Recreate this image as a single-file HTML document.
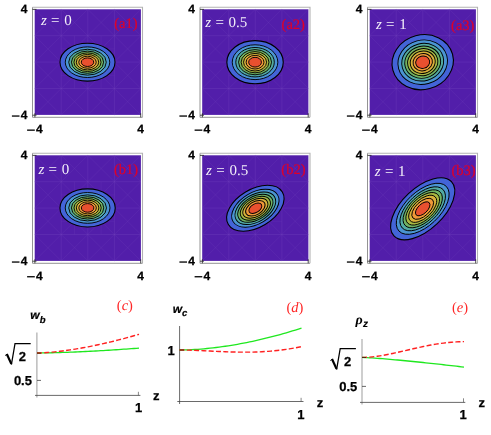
<!DOCTYPE html>
<html><head><meta charset="utf-8"><title>figure</title>
<style>
html,body{margin:0;padding:0;background:#fff;}
body{width:491px;height:435px;overflow:hidden;font-family:"Liberation Sans",sans-serif;}
svg{display:block;position:absolute;left:0;top:0;will-change:transform;text-rendering:geometricPrecision;}
.tk{font-family:"Liberation Sans",sans-serif;font-weight:bold;font-size:12px;fill:#000;stroke:#000;stroke-width:0.25px;}
.t13{font-size:13px;}
.zl{font-family:"Liberation Serif",serif;font-size:15px;fill:#fff;fill-opacity:0.93;word-spacing:0.5px;}
.pl{font-family:"Liberation Serif",serif;font-size:14.5px;fill:#e00028;stroke:#e00028;stroke-width:0.2px;}
.cl{font-family:"Liberation Serif",serif;font-size:14.5px;fill:#ff2626;}
.cl tspan{font-style:italic;}
.ax{font-family:"Liberation Sans",sans-serif;font-weight:bold;font-style:italic;font-size:12px;fill:#000;stroke:#000;stroke-width:0.2px;}
</style></head><body>
<svg width="491" height="435" viewBox="0 0 491 435">
<rect x="0" y="0" width="491" height="435" fill="#fff"/>

<g>
<rect x="32.5" y="7.3" width="110" height="110" fill="#fff"/>
<path d="M32.5,7.3 H142.5 V117.3" fill="none" stroke="#b2b2b2" stroke-width="1.1"/>
<path d="M32.5,7.3 V117.3 H142.5" fill="none" stroke="#939393" stroke-width="1"/>
<rect x="34.7" y="9.3" width="106.2" height="105.6" fill="#521eaa"/>
<g stroke="#7448be" stroke-width="0.6" fill="none">
<path opacity="0.5" d="M34.7,35.7H140.9M61.2,9.3V114.9M34.7,62.1H140.9M87.8,9.3V114.9M34.7,88.5H140.9M114.4,9.3V114.9"/>
<path opacity="0.33" d="M34.7,88.5L61.2,114.9M140.9,88.5L114.4,114.9M34.7,62.1L87.8,114.9M140.9,62.1L87.8,114.9M34.7,35.7L114.4,114.9M140.9,35.7L61.2,114.9M34.7,9.3L140.9,114.9M140.9,9.3L34.7,114.9M61.2,9.3L140.9,88.5M114.4,9.3L34.7,88.5M87.8,9.3L140.9,62.1M87.8,9.3L34.7,62.1M114.4,9.3L140.9,35.7M61.2,9.3L34.7,35.7"/>
<path opacity="0.3" d="M61.2,48.9H114.4M74.5,35.7V88.5M61.2,75.3H114.4M101.1,35.7V88.5"/>
</g>
<g stroke="#222" stroke-width="0.8">
<line x1="34.9" y1="117.3" x2="34.9" y2="113.3"/>
<line x1="140.7" y1="117.3" x2="140.7" y2="113.3"/>
<line x1="32.5" y1="115.2" x2="36.5" y2="115.2"/>
<line x1="32.5" y1="9.4" x2="36.5" y2="9.4"/>
</g>
<g transform="translate(87.5,62.2) rotate(0)" stroke="#000" stroke-width="0.92">
<ellipse cx="0" cy="0" rx="27.50" ry="18.95" fill="#4364d8" stroke-width="1.1"/>
<ellipse cx="0" cy="0" rx="22.22" ry="15.31" fill="#4a94d2"/>
<ellipse cx="0" cy="0" rx="18.78" ry="12.94" fill="#52aaa2"/>
<ellipse cx="0" cy="0" rx="16.09" ry="11.09" fill="#70b262"/>
<ellipse cx="0" cy="0" rx="13.56" ry="9.34" fill="#a8b842"/>
<ellipse cx="0" cy="0" rx="11.22" ry="7.73" fill="#d8b03a"/>
<ellipse cx="0" cy="0" rx="8.72" ry="6.01" fill="#f09838"/>
<ellipse cx="0" cy="0" rx="6.21" ry="4.28" fill="#e9502f"/>
</g>
<text class="zl" x="41.0" y="25.0"><tspan font-style="italic">z</tspan> = <tspan dx="0.5">0</tspan></text>
<text class="pl" x="114.2" y="28.4">(a1)</text>
<text class="tk" x="20.7" y="13.0">4</text>
<text class="tk" x="20.7" y="119.0">4</text>
<rect x="11.899999999999999" y="115.4" width="7.6" height="1.3" fill="#000"/>
<text class="tk" x="36.1" y="133.1">4</text>
<rect x="27.1" y="129.5" width="7.7" height="1.3" fill="#000"/>
<text class="tk" x="140.5" y="133.1" text-anchor="middle">4</text>
</g>
<g>
<rect x="200.0" y="7.3" width="110" height="110" fill="#fff"/>
<path d="M200.0,7.3 H310.0 V117.3" fill="none" stroke="#b2b2b2" stroke-width="1.1"/>
<path d="M200.0,7.3 V117.3 H310.0" fill="none" stroke="#939393" stroke-width="1"/>
<rect x="202.2" y="9.3" width="106.2" height="105.6" fill="#521eaa"/>
<g stroke="#7448be" stroke-width="0.6" fill="none">
<path opacity="0.5" d="M202.2,35.7H308.4M228.8,9.3V114.9M202.2,62.1H308.4M255.3,9.3V114.9M202.2,88.5H308.4M281.9,9.3V114.9"/>
<path opacity="0.33" d="M202.2,88.5L228.8,114.9M308.4,88.5L281.8,114.9M202.2,62.1L255.3,114.9M308.4,62.1L255.3,114.9M202.2,35.7L281.9,114.9M308.4,35.7L228.7,114.9M202.2,9.3L308.4,114.9M308.4,9.3L202.2,114.9M228.8,9.3L308.4,88.5M281.8,9.3L202.2,88.5M255.3,9.3L308.4,62.1M255.3,9.3L202.2,62.1M281.9,9.3L308.4,35.7M228.7,9.3L202.2,35.7"/>
<path opacity="0.3" d="M228.8,48.9H281.9M242.0,35.7V88.5M228.8,75.3H281.9M268.6,35.7V88.5"/>
</g>
<g stroke="#222" stroke-width="0.8">
<line x1="202.4" y1="117.3" x2="202.4" y2="113.3"/>
<line x1="308.2" y1="117.3" x2="308.2" y2="113.3"/>
<line x1="200.0" y1="115.2" x2="204.0" y2="115.2"/>
<line x1="200.0" y1="9.4" x2="204.0" y2="9.4"/>
</g>
<g transform="translate(255.05,62.2) rotate(0)" stroke="#000" stroke-width="0.92">
<ellipse cx="0" cy="0" rx="28.20" ry="21.55" fill="#4364d8" stroke-width="1.1"/>
<ellipse cx="0" cy="0" rx="22.79" ry="17.41" fill="#4a94d2"/>
<ellipse cx="0" cy="0" rx="19.26" ry="14.72" fill="#52aaa2"/>
<ellipse cx="0" cy="0" rx="16.50" ry="12.61" fill="#70b262"/>
<ellipse cx="0" cy="0" rx="13.90" ry="10.62" fill="#a8b842"/>
<ellipse cx="0" cy="0" rx="11.51" ry="8.79" fill="#d8b03a"/>
<ellipse cx="0" cy="0" rx="8.94" ry="6.83" fill="#f09838"/>
<ellipse cx="0" cy="0" rx="6.37" ry="4.87" fill="#e9502f"/>
</g>
<text class="zl" x="205.3" y="27.4"><tspan font-style="italic">z</tspan> = <tspan dx="0.5">0.5</tspan></text>
<text class="pl" x="281.6" y="29.2">(a2)</text>
<text class="tk" x="188.2" y="13.0">4</text>
<text class="tk" x="188.2" y="119.0">4</text>
<rect x="179.4" y="115.4" width="7.6" height="1.3" fill="#000"/>
<text class="tk" x="203.6" y="133.1">4</text>
<rect x="194.6" y="129.5" width="7.7" height="1.3" fill="#000"/>
<text class="tk" x="308.0" y="133.1" text-anchor="middle">4</text>
</g>
<g>
<rect x="367.5" y="7.3" width="110" height="110" fill="#fff"/>
<path d="M367.5,7.3 H477.5 V117.3" fill="none" stroke="#b2b2b2" stroke-width="1.1"/>
<path d="M367.5,7.3 V117.3 H477.5" fill="none" stroke="#939393" stroke-width="1"/>
<rect x="369.7" y="9.3" width="106.2" height="105.6" fill="#521eaa"/>
<g stroke="#7448be" stroke-width="0.6" fill="none">
<path opacity="0.5" d="M369.7,35.7H475.9M396.2,9.3V114.9M369.7,62.1H475.9M422.8,9.3V114.9M369.7,88.5H475.9M449.4,9.3V114.9"/>
<path opacity="0.33" d="M369.7,88.5L396.2,114.9M475.9,88.5L449.3,114.9M369.7,62.1L422.8,114.9M475.9,62.1L422.8,114.9M369.7,35.7L449.4,114.9M475.9,35.7L396.2,114.9M369.7,9.3L475.9,114.9M475.9,9.3L369.7,114.9M396.2,9.3L475.9,88.5M449.3,9.3L369.7,88.5M422.8,9.3L475.9,62.1M422.8,9.3L369.7,62.1M449.4,9.3L475.9,35.7M396.2,9.3L369.7,35.7"/>
<path opacity="0.3" d="M396.2,48.9H449.4M409.5,35.7V88.5M396.2,75.3H449.4M436.1,35.7V88.5"/>
</g>
<g stroke="#222" stroke-width="0.8">
<line x1="369.9" y1="117.3" x2="369.9" y2="113.3"/>
<line x1="475.7" y1="117.3" x2="475.7" y2="113.3"/>
<line x1="367.5" y1="115.2" x2="371.5" y2="115.2"/>
<line x1="367.5" y1="9.4" x2="371.5" y2="9.4"/>
</g>
<g transform="translate(422.7,62.2) rotate(-15)" stroke="#000" stroke-width="0.92">
<ellipse cx="0" cy="0" rx="30.88" ry="27.30" fill="#4364d8" stroke-width="1.1"/>
<ellipse cx="0" cy="0" rx="24.95" ry="22.06" fill="#4a94d2"/>
<ellipse cx="0" cy="0" rx="21.09" ry="18.65" fill="#52aaa2"/>
<ellipse cx="0" cy="0" rx="18.06" ry="15.97" fill="#70b262"/>
<ellipse cx="0" cy="0" rx="15.22" ry="13.46" fill="#a8b842"/>
<ellipse cx="0" cy="0" rx="12.60" ry="11.14" fill="#d8b03a"/>
<ellipse cx="0" cy="0" rx="9.79" ry="8.65" fill="#f09838"/>
<ellipse cx="0" cy="0" rx="6.98" ry="6.17" fill="#e9502f"/>
</g>
<text class="zl" x="376.0" y="28.6"><tspan font-style="italic">z</tspan> = <tspan dx="0.5">1</tspan></text>
<text class="pl" x="451.1" y="29.5">(a3)</text>
<text class="tk" x="355.7" y="13.0">4</text>
<text class="tk" x="355.7" y="119.0">4</text>
<rect x="346.9" y="115.4" width="7.6" height="1.3" fill="#000"/>
<text class="tk" x="371.1" y="133.1">4</text>
<rect x="362.1" y="129.5" width="7.7" height="1.3" fill="#000"/>
<text class="tk" x="475.5" y="133.1" text-anchor="middle">4</text>
</g>
<g>
<rect x="32.5" y="153.3" width="110" height="110" fill="#fff"/>
<path d="M32.5,153.3 H142.5 V263.3" fill="none" stroke="#b2b2b2" stroke-width="1.1"/>
<path d="M32.5,153.3 V263.3 H142.5" fill="none" stroke="#939393" stroke-width="1"/>
<rect x="34.7" y="155.3" width="106.2" height="105.6" fill="#521eaa"/>
<g stroke="#7448be" stroke-width="0.6" fill="none">
<path opacity="0.5" d="M34.7,181.7H140.9M61.2,155.3V260.9M34.7,208.1H140.9M87.8,155.3V260.9M34.7,234.5H140.9M114.4,155.3V260.9"/>
<path opacity="0.33" d="M34.7,234.5L61.2,260.9M140.9,234.5L114.4,260.9M34.7,208.1L87.8,260.9M140.9,208.1L87.8,260.9M34.7,181.7L114.4,260.9M140.9,181.7L61.2,260.9M34.7,155.3L140.9,260.9M140.9,155.3L34.7,260.9M61.2,155.3L140.9,234.5M114.4,155.3L34.7,234.5M87.8,155.3L140.9,208.1M87.8,155.3L34.7,208.1M114.4,155.3L140.9,181.7M61.2,155.3L34.7,181.7"/>
<path opacity="0.3" d="M61.2,194.9H114.4M74.5,181.7V234.5M61.2,221.3H114.4M101.1,181.7V234.5"/>
</g>
<g stroke="#222" stroke-width="0.8">
<line x1="34.9" y1="263.3" x2="34.9" y2="259.3"/>
<line x1="140.7" y1="263.3" x2="140.7" y2="259.3"/>
<line x1="32.5" y1="261.2" x2="36.5" y2="261.2"/>
<line x1="32.5" y1="155.4" x2="36.5" y2="155.4"/>
</g>
<g transform="translate(87.6,207.9) rotate(0)" stroke="#000" stroke-width="0.92">
<ellipse cx="0" cy="0" rx="27.65" ry="19.05" fill="#4364d8" stroke-width="1.1"/>
<ellipse cx="0" cy="0" rx="22.34" ry="15.39" fill="#4a94d2"/>
<ellipse cx="0" cy="0" rx="18.88" ry="13.01" fill="#52aaa2"/>
<ellipse cx="0" cy="0" rx="16.18" ry="11.14" fill="#70b262"/>
<ellipse cx="0" cy="0" rx="13.63" ry="9.39" fill="#a8b842"/>
<ellipse cx="0" cy="0" rx="11.28" ry="7.77" fill="#d8b03a"/>
<ellipse cx="0" cy="0" rx="8.77" ry="6.04" fill="#f09838"/>
<ellipse cx="0" cy="0" rx="6.25" ry="4.31" fill="#e9502f"/>
</g>
<text class="zl" x="38.4" y="174.0"><tspan font-style="italic">z</tspan> = <tspan dx="0.5">0</tspan></text>
<text class="pl" x="114.0" y="174.3">(b1)</text>
<text class="tk" x="20.7" y="159.0">4</text>
<text class="tk" x="20.7" y="265.0">4</text>
<rect x="11.899999999999999" y="261.4" width="7.6" height="1.3" fill="#000"/>
<text class="tk" x="36.1" y="279.7">4</text>
<rect x="27.1" y="276.09999999999997" width="7.7" height="1.3" fill="#000"/>
<text class="tk" x="140.5" y="279.7" text-anchor="middle">4</text>
</g>
<g>
<rect x="200.0" y="153.3" width="110" height="110" fill="#fff"/>
<path d="M200.0,153.3 H310.0 V263.3" fill="none" stroke="#b2b2b2" stroke-width="1.1"/>
<path d="M200.0,153.3 V263.3 H310.0" fill="none" stroke="#939393" stroke-width="1"/>
<rect x="202.2" y="155.3" width="106.2" height="105.6" fill="#521eaa"/>
<g stroke="#7448be" stroke-width="0.6" fill="none">
<path opacity="0.5" d="M202.2,181.7H308.4M228.8,155.3V260.9M202.2,208.1H308.4M255.3,155.3V260.9M202.2,234.5H308.4M281.9,155.3V260.9"/>
<path opacity="0.33" d="M202.2,234.5L228.8,260.9M308.4,234.5L281.8,260.9M202.2,208.1L255.3,260.9M308.4,208.1L255.3,260.9M202.2,181.7L281.9,260.9M308.4,181.7L228.7,260.9M202.2,155.3L308.4,260.9M308.4,155.3L202.2,260.9M228.8,155.3L308.4,234.5M281.8,155.3L202.2,234.5M255.3,155.3L308.4,208.1M255.3,155.3L202.2,208.1M281.9,155.3L308.4,181.7M228.7,155.3L202.2,181.7"/>
<path opacity="0.3" d="M228.8,194.9H281.9M242.0,181.7V234.5M228.8,221.3H281.9M268.6,181.7V234.5"/>
</g>
<g stroke="#222" stroke-width="0.8">
<line x1="202.4" y1="263.3" x2="202.4" y2="259.3"/>
<line x1="308.2" y1="263.3" x2="308.2" y2="259.3"/>
<line x1="200.0" y1="261.2" x2="204.0" y2="261.2"/>
<line x1="200.0" y1="155.4" x2="204.0" y2="155.4"/>
</g>
<g transform="translate(255.35,208.25) rotate(-31)" stroke="#000" stroke-width="0.92">
<ellipse cx="0" cy="0" rx="31.50" ry="18.95" fill="#4364d8" stroke-width="1.1"/>
<ellipse cx="0" cy="0" rx="25.96" ry="15.61" fill="#4a94d2"/>
<ellipse cx="0" cy="0" rx="22.36" ry="13.45" fill="#52aaa2"/>
<ellipse cx="0" cy="0" rx="19.31" ry="11.62" fill="#70b262"/>
<ellipse cx="0" cy="0" rx="16.54" ry="9.95" fill="#a8b842"/>
<ellipse cx="0" cy="0" rx="13.77" ry="8.28" fill="#d8b03a"/>
<ellipse cx="0" cy="0" rx="10.71" ry="6.44" fill="#f09838"/>
<ellipse cx="0" cy="0" rx="7.12" ry="4.28" fill="#e9502f"/>
</g>
<text class="zl" x="206.1" y="174.6"><tspan font-style="italic">z</tspan> = <tspan dx="0.5">0.5</tspan></text>
<text class="pl" x="281.3" y="174.3">(b2)</text>
<text class="tk" x="188.2" y="159.0">4</text>
<text class="tk" x="188.2" y="265.0">4</text>
<rect x="179.4" y="261.4" width="7.6" height="1.3" fill="#000"/>
<text class="tk" x="203.6" y="279.7">4</text>
<rect x="194.6" y="276.09999999999997" width="7.7" height="1.3" fill="#000"/>
<text class="tk" x="308.0" y="279.7" text-anchor="middle">4</text>
</g>
<g>
<rect x="367.5" y="153.3" width="110" height="110" fill="#fff"/>
<path d="M367.5,153.3 H477.5 V263.3" fill="none" stroke="#b2b2b2" stroke-width="1.1"/>
<path d="M367.5,153.3 V263.3 H477.5" fill="none" stroke="#939393" stroke-width="1"/>
<rect x="369.7" y="155.3" width="106.2" height="105.6" fill="#521eaa"/>
<g stroke="#7448be" stroke-width="0.6" fill="none">
<path opacity="0.5" d="M369.7,181.7H475.9M396.2,155.3V260.9M369.7,208.1H475.9M422.8,155.3V260.9M369.7,234.5H475.9M449.4,155.3V260.9"/>
<path opacity="0.33" d="M369.7,234.5L396.2,260.9M475.9,234.5L449.3,260.9M369.7,208.1L422.8,260.9M475.9,208.1L422.8,260.9M369.7,181.7L449.4,260.9M475.9,181.7L396.2,260.9M369.7,155.3L475.9,260.9M475.9,155.3L369.7,260.9M396.2,155.3L475.9,234.5M449.3,155.3L369.7,234.5M422.8,155.3L475.9,208.1M422.8,155.3L369.7,208.1M449.4,155.3L475.9,181.7M396.2,155.3L369.7,181.7"/>
<path opacity="0.3" d="M396.2,194.9H449.4M409.5,181.7V234.5M396.2,221.3H449.4M436.1,181.7V234.5"/>
</g>
<g stroke="#222" stroke-width="0.8">
<line x1="369.9" y1="263.3" x2="369.9" y2="259.3"/>
<line x1="475.7" y1="263.3" x2="475.7" y2="259.3"/>
<line x1="367.5" y1="261.2" x2="371.5" y2="261.2"/>
<line x1="367.5" y1="155.4" x2="371.5" y2="155.4"/>
</g>
<g transform="translate(422.7,208.8) rotate(-43.3)" stroke="#000" stroke-width="0.92">
<ellipse cx="0" cy="0" rx="39.50" ry="20.75" fill="#4364d8" stroke-width="1.1"/>
<ellipse cx="0" cy="0" rx="32.55" ry="17.10" fill="#4a94d2"/>
<ellipse cx="0" cy="0" rx="28.04" ry="14.73" fill="#52aaa2"/>
<ellipse cx="0" cy="0" rx="24.21" ry="12.72" fill="#70b262"/>
<ellipse cx="0" cy="0" rx="20.74" ry="10.89" fill="#a8b842"/>
<ellipse cx="0" cy="0" rx="17.26" ry="9.07" fill="#d8b03a"/>
<ellipse cx="0" cy="0" rx="13.43" ry="7.06" fill="#f09838"/>
<ellipse cx="0" cy="0" rx="8.93" ry="4.69" fill="#e9502f"/>
</g>
<text class="zl" x="374.8" y="176.2"><tspan font-style="italic">z</tspan> = <tspan dx="0.5">1</tspan></text>
<text class="pl" x="451.5" y="175.0">(b3)</text>
<text class="tk" x="355.7" y="159.0">4</text>
<text class="tk" x="355.7" y="265.0">4</text>
<rect x="346.9" y="261.4" width="7.6" height="1.3" fill="#000"/>
<text class="tk" x="371.1" y="279.7">4</text>
<rect x="362.1" y="276.09999999999997" width="7.7" height="1.3" fill="#000"/>
<text class="tk" x="475.5" y="279.7" text-anchor="middle">4</text>
</g>
<g>
<line x1="36.9" y1="332.5" x2="36.9" y2="397.5" stroke="#a4a4a4" stroke-width="1.1"/>
<line x1="35" y1="395.4" x2="140.4" y2="395.4" stroke="#444" stroke-width="0.8"/>
<line x1="37" y1="380.4" x2="41" y2="380.4" stroke="#444" stroke-width="0.8"/>
<line x1="138.4" y1="391.8" x2="138.4" y2="395.4" stroke="#555" stroke-width="0.7"/>
<path d="M37.00,353.00 L39.55,352.99 L42.10,352.96 L44.65,352.92 L47.20,352.88 L49.75,352.82 L52.30,352.76 L54.85,352.70 L57.40,352.63 L59.95,352.55 L62.50,352.47 L65.05,352.38 L67.60,352.29 L70.15,352.19 L72.70,352.09 L75.25,351.98 L77.80,351.87 L80.35,351.75 L82.90,351.63 L85.45,351.51 L88.00,351.38 L90.55,351.25 L93.10,351.12 L95.65,350.98 L98.20,350.84 L100.75,350.69 L103.30,350.54 L105.85,350.39 L108.40,350.23 L110.95,350.07 L113.50,349.91 L116.05,349.74 L118.60,349.57 L121.15,349.40 L123.70,349.22 L126.25,349.04 L128.80,348.86 L131.35,348.67 L133.90,348.49 L136.45,348.29 L139.00,348.10" fill="none" stroke="#1fe81f" stroke-width="1.3"/>
<path d="M37.00,353.00 L39.55,352.95 L42.10,352.85 L44.65,352.70 L47.20,352.53 L49.75,352.33 L52.30,352.10 L54.85,351.85 L57.40,351.58 L59.95,351.28 L62.50,350.97 L65.05,350.63 L67.60,350.28 L70.15,349.90 L72.70,349.51 L75.25,349.11 L77.80,348.68 L80.35,348.24 L82.90,347.79 L85.45,347.32 L88.00,346.83 L90.55,346.33 L93.10,345.82 L95.65,345.29 L98.20,344.74 L100.75,344.18 L103.30,343.61 L105.85,343.03 L108.40,342.43 L110.95,341.82 L113.50,341.20 L116.05,340.56 L118.60,339.91 L121.15,339.25 L123.70,338.58 L126.25,337.90 L128.80,337.20 L131.35,336.49 L133.90,335.77 L136.45,335.04 L139.00,334.30" fill="none" stroke="#ff2020" stroke-width="1.4" stroke-dasharray="5,2.3"/>
<line x1="37" y1="353.1" x2="41" y2="353.1" stroke="#3a2a10" stroke-width="0.9"/>
<path d="M5.10,355.60 L7.00,354.20" fill="none" stroke="#000" stroke-width="0.9"/><path d="M6.80,354.00 L11.30,363.90" fill="none" stroke="#000" stroke-width="2.2"/><path d="M11.40,364.70 L15.00,343.70 L30.70,343.70" fill="none" stroke="#000" stroke-width="1.25" stroke-linejoin="miter"/><text class="tk" x="18.80" y="360.6" style="font-size:13px">2</text>
<text class="tk t13" x="13.9" y="385">0.5</text>
<text class="tk t13" x="138.7" y="412.2" text-anchor="middle">1</text>
<text class="tk t13" x="152.9" y="400">z</text>
<text class="ax" x="30.3" y="318.9">w<tspan style="font-size:9.5px" dy="3.6">b</tspan></text>
<text class="cl" x="116.8" y="309.7">(<tspan>c</tspan>)</text>
</g>
<g>
<line x1="179.6" y1="326" x2="179.6" y2="404" stroke="#444" stroke-width="0.8"/>
<line x1="177.3" y1="401.5" x2="303.5" y2="401.5" stroke="#444" stroke-width="0.8"/>
<line x1="301.1" y1="397.8" x2="301.1" y2="401.5" stroke="#555" stroke-width="0.7"/>
<path d="M179.50,350.00 L182.55,349.97 L185.60,349.90 L188.65,349.79 L191.70,349.65 L194.75,349.48 L197.80,349.28 L200.85,349.05 L203.90,348.79 L206.95,348.51 L210.00,348.19 L213.05,347.86 L216.10,347.49 L219.15,347.10 L222.20,346.69 L225.25,346.25 L228.30,345.79 L231.35,345.31 L234.40,344.80 L237.45,344.27 L240.50,343.71 L243.55,343.13 L246.60,342.53 L249.65,341.91 L252.70,341.27 L255.75,340.60 L258.80,339.91 L261.85,339.21 L264.90,338.48 L267.95,337.72 L271.00,336.95 L274.05,336.16 L277.10,335.34 L280.15,334.51 L283.20,333.65 L286.25,332.78 L289.30,331.88 L292.35,330.97 L295.40,330.03 L298.45,329.08 L301.50,328.10" fill="none" stroke="#1fe81f" stroke-width="1.3"/>
<path d="M179.50,350.00 L182.55,350.02 L185.60,350.06 L188.65,350.13 L191.70,350.22 L194.75,350.33 L197.80,350.45 L200.85,350.59 L203.90,350.73 L206.95,350.88 L210.00,351.03 L213.05,351.18 L216.10,351.33 L219.15,351.48 L222.20,351.62 L225.25,351.74 L228.30,351.86 L231.35,351.96 L234.40,352.04 L237.45,352.11 L240.50,352.15 L243.55,352.17 L246.60,352.17 L249.65,352.14 L252.70,352.09 L255.75,352.00 L258.80,351.89 L261.85,351.74 L264.90,351.56 L267.95,351.35 L271.00,351.11 L274.05,350.83 L277.10,350.51 L280.15,350.15 L283.20,349.76 L286.25,349.33 L289.30,348.86 L292.35,348.35 L295.40,347.81 L298.45,347.22 L301.50,346.60" fill="none" stroke="#ff2020" stroke-width="1.4" stroke-dasharray="5,2.3"/>
<line x1="179.6" y1="350.0" x2="184" y2="350.0" stroke="#3a2a10" stroke-width="0.9"/>
<text class="tk t13" x="171" y="354.6" text-anchor="middle">1</text>
<text class="tk t13" x="300.9" y="419.2" text-anchor="middle">1</text>
<text class="tk t13" x="316.8" y="406.6">z</text>
<text class="ax" x="172.7" y="312.9">w<tspan style="font-size:9.5px" dy="3.2">c</tspan></text>
<text class="cl" x="286.4" y="312.4">(<tspan>d</tspan>)</text>
</g>
<g>
<line x1="362" y1="339" x2="362" y2="404.5" stroke="#b4b4b4" stroke-width="1.3"/>
<line x1="360" y1="402.4" x2="465.3" y2="402.4" stroke="#444" stroke-width="0.8"/>
<line x1="362" y1="386.4" x2="366" y2="386.4" stroke="#444" stroke-width="0.8"/>
<line x1="463.5" y1="398.3" x2="463.5" y2="402.4" stroke="#555" stroke-width="0.7"/>
<path d="M362.00,357.40 L364.55,357.50 L367.10,357.63 L369.65,357.78 L372.20,357.95 L374.75,358.12 L377.30,358.31 L379.85,358.50 L382.40,358.70 L384.95,358.90 L387.50,359.11 L390.05,359.33 L392.60,359.55 L395.15,359.78 L397.70,360.01 L400.25,360.25 L402.80,360.49 L405.35,360.73 L407.90,360.98 L410.45,361.23 L413.00,361.48 L415.55,361.73 L418.10,361.99 L420.65,362.26 L423.20,362.52 L425.75,362.79 L428.30,363.06 L430.85,363.33 L433.40,363.61 L435.95,363.89 L438.50,364.17 L441.05,364.45 L443.60,364.74 L446.15,365.03 L448.70,365.32 L451.25,365.61 L453.80,365.90 L456.35,366.20 L458.90,366.50 L461.45,366.80 L464.00,367.10" fill="none" stroke="#1fe81f" stroke-width="1.3"/>
<path d="M362.00,357.40 L364.55,357.36 L367.10,357.26 L369.65,357.08 L372.20,356.85 L374.75,356.57 L377.30,356.23 L379.85,355.85 L382.40,355.43 L384.95,354.98 L387.50,354.49 L390.05,353.98 L392.60,353.45 L395.15,352.89 L397.70,352.32 L400.25,351.74 L402.80,351.15 L405.35,350.56 L407.90,349.97 L410.45,349.37 L413.00,348.79 L415.55,348.21 L418.10,347.64 L420.65,347.09 L423.20,346.55 L425.75,346.03 L428.30,345.53 L430.85,345.06 L433.40,344.60 L435.95,344.18 L438.50,343.78 L441.05,343.41 L443.60,343.07 L446.15,342.77 L448.70,342.50 L451.25,342.26 L453.80,342.05 L456.35,341.89 L458.90,341.75 L461.45,341.66 L464.00,341.60" fill="none" stroke="#ff2020" stroke-width="1.4" stroke-dasharray="5,2.3"/>
<line x1="362" y1="357.5" x2="366" y2="357.5" stroke="#3a2a10" stroke-width="0.9"/>
<path d="M330.30,360.60 L332.20,359.20" fill="none" stroke="#000" stroke-width="0.9"/><path d="M332.00,359.00 L336.50,368.90" fill="none" stroke="#000" stroke-width="2.2"/><path d="M336.60,369.70 L340.20,348.70 L355.90,348.70" fill="none" stroke="#000" stroke-width="1.25" stroke-linejoin="miter"/><text class="tk" x="344.00" y="365.6" style="font-size:13px">2</text>
<text class="tk t13" x="339.2" y="391.2">0.5</text>
<text class="tk t13" x="463" y="419.3" text-anchor="middle">1</text>
<text class="tk t13" x="478.5" y="406.9">z</text>
<text x="355.6" y="323.9" style="font-family:'Liberation Serif',serif;font-style:italic;font-weight:bold;font-size:14px;fill:#000;">ρ<tspan class="ax" dx="0.3" dy="2.7" style="font-size:10px">z</tspan></text>
<text class="cl" x="451.9" y="312.4">(<tspan>e</tspan>)</text>
</g>
</svg></body></html>
